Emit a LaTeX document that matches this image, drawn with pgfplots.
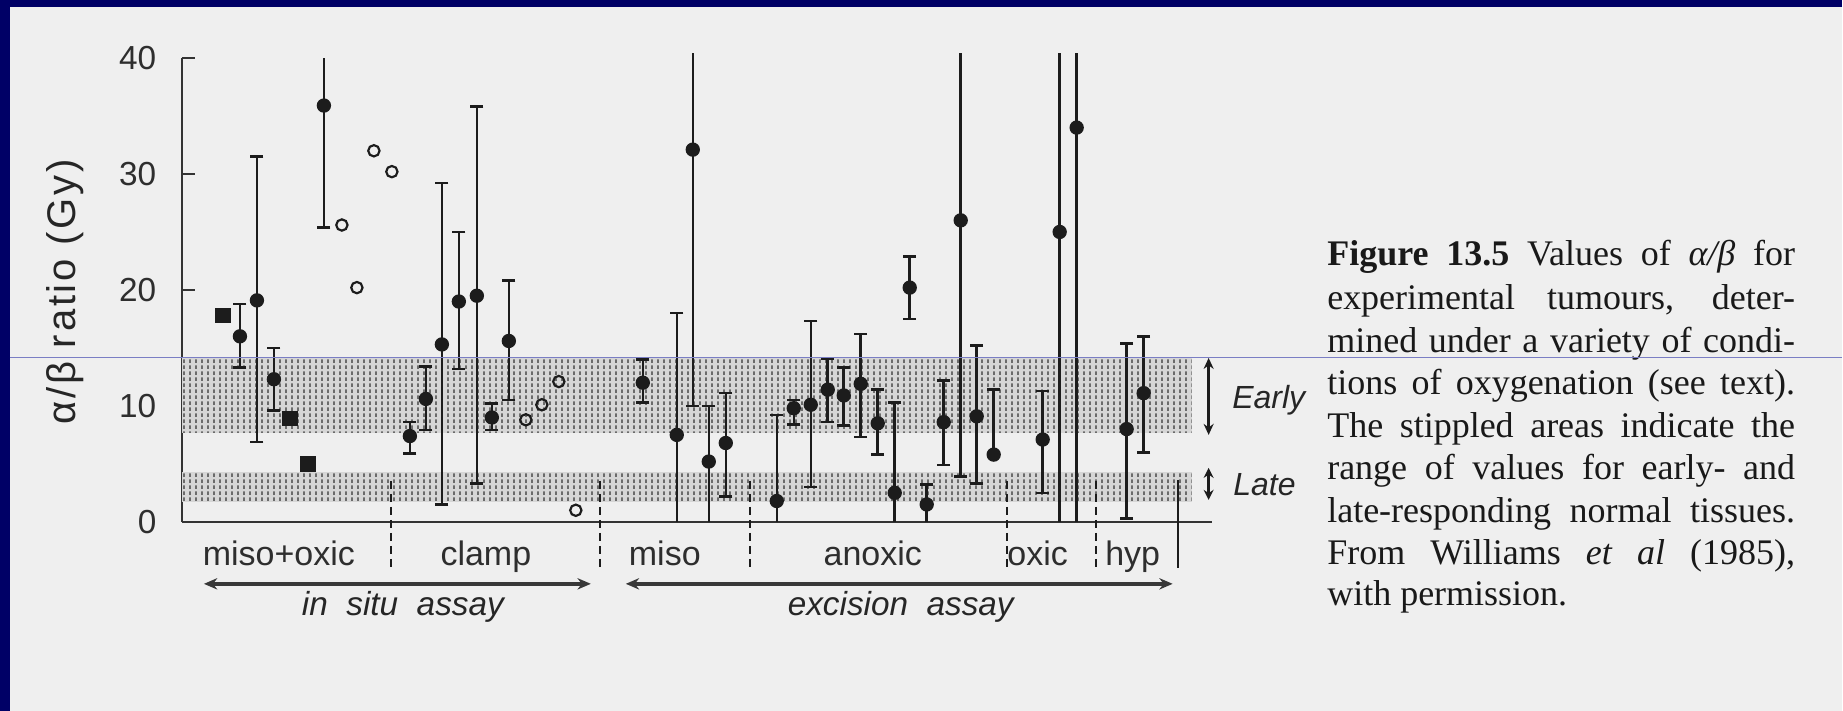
\documentclass[border=0pt]{standalone}
\usepackage{fontspec}
\setmainfont{Liberation Serif}
\setsansfont{Liberation Sans}
\usepackage{pgfplots}
\pgfplotsset{compat=1.18}
\usepackage{pgfplotstable}
\usetikzlibrary{patterns,arrows.meta}

\definecolor{pagebg}{HTML}{EFEFEF}
\definecolor{navy}{HTML}{000066}
\definecolor{scanline}{HTML}{7A7EC4}
\definecolor{ink}{HTML}{1C1C1C}

% stipple used for the normal-tissue bands
\pgfdeclarepatternformonly{stipple}{\pgfpointorigin}{\pgfpoint{1.9pt}{1.8pt}}{\pgfpoint{1.9pt}{1.8pt}}{%
  \pgfpathrectangle{\pgfpointorigin}{\pgfpoint{0.6pt}{1.1pt}}\pgfusepath{fill}}

% x = position along the axis, y = alpha/beta (Gy), lo/hi = ends of the bar
\pgfplotstableread{
x    y    lo   hi
240  16.0 13.3 18.8
257  19.1 6.9  31.5
274  12.3 9.6  15.0
324  35.9 25.4 40.0
410  7.4  5.9  8.6
426  10.6 7.9  13.4
442  15.3 1.5  29.2
459  19.0 13.2 25.0
477  19.5 3.3  35.8
492  9.0  7.9  10.2
509  15.6 10.5 20.8
643  12.0 10.3 14.0
677  7.5  0    18.0
693  32.1 10.0 40.4
709  5.2  0    10.0
726  6.8  2.2  11.1
777  1.8  0    9.2
794  9.8  8.4  10.5
811  10.1 3.0  17.3
828  11.4 8.6  14.1
844  10.9 8.3  13.3
861  11.9 7.3  16.2
878  8.5  5.8  11.4
895  2.5  0    10.3
910  20.2 17.5 22.9
927  1.5  0    3.2
944  8.6  4.9  12.2
961  26.0 3.9  40.4
977  9.1  3.3  15.2
994  5.8  5.8  11.4
1043 7.1  2.5  11.3
1060 25.0 0    40.4
1077 34.0 0    40.4
1127 8.0  0.3  15.4
1144 11.1 6.0  16.0
}\bars

% end caps that are visible
\pgfplotstableread{
x    c
240  13.3
240  18.8
257  6.9
257  31.5
274  9.6
274  15.0
324  25.4
410  5.9
410  8.6
426  7.9
426  13.4
442  1.5
442  29.2
459  13.2
459  25.0
477  3.3
477  35.8
492  7.9
492  10.2
509  10.5
509  20.8
643  10.3
643  14.0
677  18.0
693  10.0
709  10.0
726  2.2
726  11.1
777  9.2
794  8.4
794  10.5
811  3.0
811  17.3
828  8.6
828  14.1
844  8.3
844  13.3
861  7.3
861  16.2
878  5.8
878  11.4
895  10.3
910  17.5
910  22.9
927  3.2
944  4.9
944  12.2
961  3.9
977  3.3
977  15.2
994  11.4
1043 2.5
1043 11.3
1127 0.3
1127 15.4
1144 6.0
1144 16.0
}\caps

\pgfplotstableread{
x   y
223 17.8
290 8.9
308 5.0
}\squares

\pgfplotstableread{
x   y
342 25.6
357 20.2
374 32.0
392 30.2
526 8.8
542 10.1
559 12.1
576 1.0
}\opens

\begin{document}
\begin{tikzpicture}
\begin{scope}[x=0.3pt,y=-0.3pt]
  \fill[pagebg] (0,0) rectangle (1843,711);
  \path[use as bounding box] (0,0) rectangle (1843,711);
  \fill[navy] (0,0) rectangle (1843,7);
  \fill[navy] (0,0) rectangle (10,711);
\end{scope}

\begin{axis}[
  at={(54.6pt,-156.6pt)}, anchor=south west,
  scale only axis, width=309pt, height=139.2pt,
  xmin=182, xmax=1212, ymin=0, ymax=40,
  axis x line=bottom, axis y line=left,
  axis line style={-, line width=0.8pt, black!80},
  xtick=\empty,
  ytick={0,10,20,30,40},
  tick align=inside, major tick length=3.9pt,
  tick style={line width=0.7pt, black!80},
  /pgf/number format/assume math mode=true,
  yticklabel style={font=\sffamily\fontsize{10}{11}\selectfont, text=black!82, inner sep=0pt, xshift=-7.5pt},
  clip=false,
]
% early and late normal-tissue ranges
\addplot[draw=none, fill=black!16] coordinates {(182,7.7) (1192,7.7) (1192,14.1) (182,14.1)} -- cycle;
\addplot[draw=none, pattern=stipple, pattern color=black!58] coordinates {(182,7.7) (1192,7.7) (1192,14.1) (182,14.1)} -- cycle;
\addplot[draw=none, fill=black!16] coordinates {(182,1.7) (1192,1.7) (1192,4.3) (182,4.3)} -- cycle;
\addplot[draw=none, pattern=stipple, pattern color=black!58] coordinates {(182,1.7) (1192,1.7) (1192,4.3) (182,4.3)} -- cycle;

\addplot[draw=none, mark=none,
  error bars/.cd, y dir=both, y explicit, error mark=none,
  error bar style={draw=ink, line width=0.75pt}]
  table[x=x, y=y, y error plus expr=\thisrow{hi}-\thisrow{y}, y error minus expr=\thisrow{y}-\thisrow{lo}] {\bars};
\addplot[only marks, mark=-, mark size=1.95pt, mark options={draw=ink, line width=0.75pt}]
  table[x=x, y=c] {\caps};
\addplot[only marks, mark=*, mark size=1.95pt, mark options={draw=ink, fill=ink}]
  table[x=x, y=y] {\bars};
\addplot[only marks, mark=square*, mark size=2.1pt, mark options={draw=ink, fill=ink}]
  table[x=x, y=y] {\squares};
\addplot[only marks, mark=o, mark size=1.7pt, mark options={draw=ink, fill=white, line width=0.65pt}]
  table[x=x, y=y] {\opens};
\end{axis}

\begin{scope}[x=0.3pt,y=-0.3pt]
  % y label
  \node[rotate=90, inner sep=0pt, text=black!85,
    font=\sffamily\fontsize{12}{14}\selectfont\addfontfeatures{LetterSpace=7}] at (65,292) {α/β ratio (Gy)};
  % separators
  \foreach \sx in {391,600,750,1007,1096}
    \draw[ink, line width=0.6pt, dash pattern=on 2.4pt off 1.5pt] (\sx,481) -- (\sx,568);
  \draw[ink, line width=0.6pt] (1178,480) -- (1178,568);
  % condition labels
  \begin{scope}[every node/.style={anchor=base, inner sep=0pt, text=black!82,
      font=\sffamily\fontsize{10.2}{12}\selectfont}]
    \node at (279,566) {miso+oxic};
    \node at (486,566) {clamp};
    \node at (665,566) {miso};
    \node at (873,566) {anoxic};
    \node at (1038,566) {oxic};
    \node at (1133,566) {hyp};
  \end{scope}
  % assay arrows
  \draw[{Stealth[length=4pt,width=3.4pt]}-{Stealth[length=4pt,width=3.4pt]}, line width=1pt, black!78]
    (204,584) -- (591,584);
  \draw[{Stealth[length=4pt,width=3.4pt]}-{Stealth[length=4pt,width=3.4pt]}, line width=1pt, black!78]
    (626,584) -- (1173,584);
  \node[anchor=base, inner sep=0pt, text=black!85, font=\sffamily\itshape\fontsize{10}{12}\selectfont]
    at (403,616) {in\ \ situ\ \ assay};
  \node[anchor=base, inner sep=0pt, text=black!85, font=\sffamily\itshape\fontsize{10}{12}\selectfont]
    at (901,616) {excision\ \ assay};
  % early / late markers
  \draw[{Stealth[length=3.3pt,width=3pt]}-{Stealth[length=3.3pt,width=3pt]}, line width=0.7pt, ink]
    (1209,358) -- (1209,435);
  \draw[{Stealth[length=3pt,width=3pt]}-{Stealth[length=3pt,width=3pt]}, line width=0.7pt, ink]
    (1209,468) -- (1209,500);
  \node[anchor=base west, inner sep=0pt, text=black!85, font=\sffamily\itshape\fontsize{9.6}{11}\selectfont]
    at (1232,409) {Early};
  \node[anchor=base west, inner sep=0pt, text=black!85, font=\sffamily\itshape\fontsize{9.6}{11}\selectfont]
    at (1233,496) {Late};
  % caption
  \begin{scope}[every node/.style={anchor=base west, inner sep=0pt, text=black!90,
      font=\fontsize{10.8}{13}\selectfont}]
    \node at (1327,266) {\makebox[140.4pt][s]{\textbf{Figure 13.5} Values of \textit{α/β} for}};
    \node at (1327,310) {\makebox[140.4pt][s]{experimental tumours, deter-}};
    \node at (1327,353) {\makebox[140.4pt][s]{mined under a variety of condi-}};
    \node at (1327,395) {\makebox[140.4pt][s]{tions of oxygenation (see text).}};
    \node at (1327,438) {\makebox[140.4pt][s]{The stippled areas indicate the}};
    \node at (1327,480) {\makebox[140.4pt][s]{range of values for early- and}};
    \node at (1327,523) {\makebox[140.4pt][s]{late-responding normal tissues.}};
    \node at (1327,565) {\makebox[140.4pt][s]{From Williams \textit{et al} (1985),}};
    \node at (1327,606) {with permission.};
  \end{scope}
  % scan artefact line
  \draw[scanline, line width=0.35pt] (10,358) -- (1843,358);
\end{scope}
\end{tikzpicture}
\end{document}
